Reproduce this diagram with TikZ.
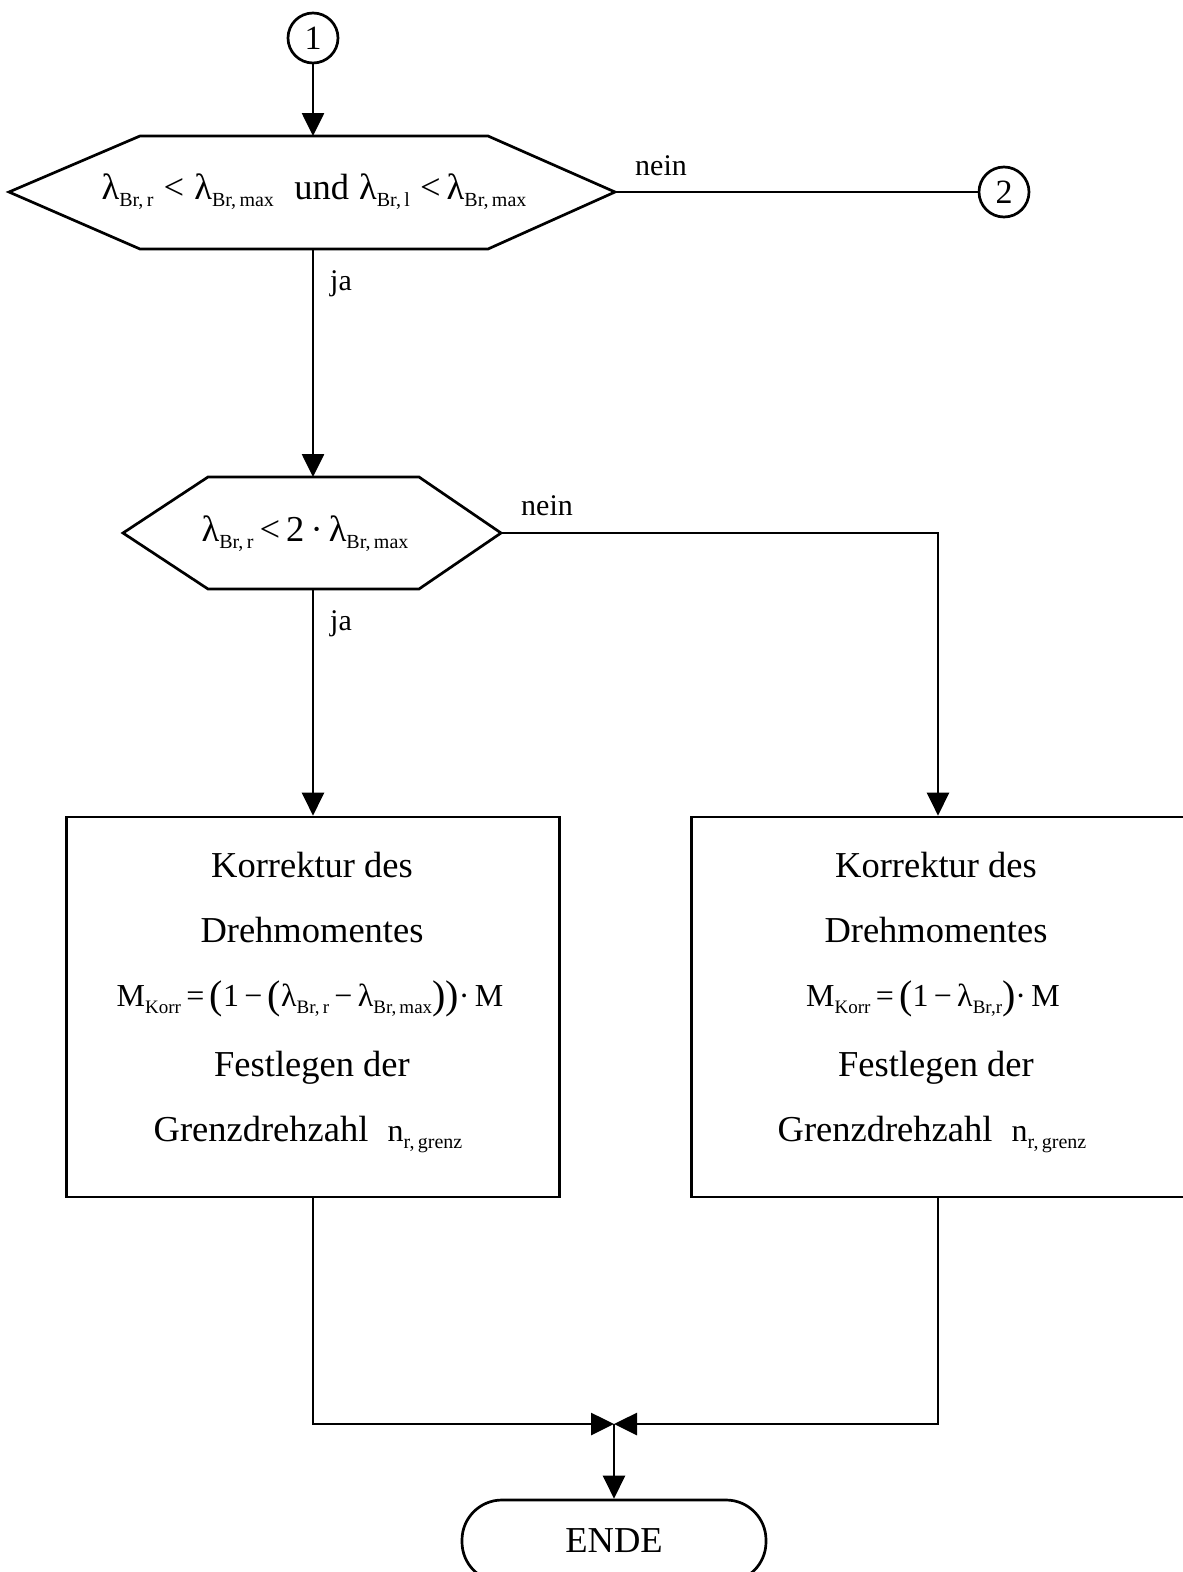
\documentclass[tikz,border=0pt]{standalone}
\usepackage{fontspec}
\setmainfont{Liberation Serif}
\usetikzlibrary{arrows.meta}
\newcommand\sbx[1]{\raisebox{-7pt}{\fontsize{20}{20}\selectfont #1}}
\newcommand\sbf[1]{\raisebox{-7pt}{\fontsize{19}{19}\selectfont #1}}
\newcommand\bpar[1]{\raisebox{-2pt}{\fontsize{40}{40}\selectfont #1}}
\begin{document}
\begin{tikzpicture}[x=1pt,y=-1pt,
 line/.style={line width=2.7pt},
 arr/.style={line, -{Triangle[length=23pt,width=22pt]}},
 conn/.style={draw, line, circle, minimum size=50pt, inner sep=0pt, font=\fontsize{34}{34}\selectfont},
 box/.style={draw, line, minimum width=493pt, minimum height=380pt, inner sep=0pt},
 endbox/.style={draw, line, rounded corners=40pt, minimum width=304pt, minimum height=82pt, inner sep=0pt, font=\fontsize{36.5}{40}\selectfont},
 txt/.style={inner sep=0pt, anchor=base, font=\fontsize{36.5}{40}\selectfont},
 fml/.style={inner sep=0pt, anchor=base, font=\fontsize{32}{36}\selectfont},
 lbl/.style={inner sep=0pt, anchor=base, font=\fontsize{30}{34}\selectfont},
]
\useasboundingbox (0,0) rectangle (1183,1572);

% connector 1
\node[conn] (c1) at (313,38) {1};

% hexagon 1
\draw[line] (9,192) -- (140,136) -- (488,136) -- (615,192) -- (488,249) -- (140,249) -- cycle;
\coordinate (h1t) at (313,136);
\coordinate (h1b) at (313,249);
\coordinate (h1r) at (615,192);
\node[txt] (h1) at (314,199) {λ\sbx{Br,\,r}\;<\;λ\sbx{Br,\,max}\;\;und\;λ\sbx{Br,\,l}\;<\,λ\sbx{Br,\,max}};
\draw[arr] (c1) -- (h1t);

% connector 2
\node[conn] (c2) at (1004,192) {2};
\draw[line] (h1r) -- (c2);
\node[lbl] (n1) at (661,175) {nein};
\node[lbl] (j1) at (341,290) {ja};

% hexagon 2
\draw[line] (123,533) -- (208,477) -- (419,477) -- (501,533) -- (419,589) -- (208,589) -- cycle;
\coordinate (h2t) at (313,477);
\coordinate (h2b) at (313,589);
\coordinate (h2r) at (501,533);
\node[txt] (h2) at (305,541) {λ\sbx{Br,\,r}\,<\,2\,·\,λ\sbx{Br,\,max}};
\draw[arr] (h1b) -- (h2t);
\node[lbl] (n2) at (547,515) {nein};
\node[lbl] (j2) at (341,630) {ja};

% boxes
\node[box] (b1) at (313,1007) {};
\node[box] (b2) at (938,1007) {};
\draw[arr] (h2b) -- (b1.north);
\draw[arr] (h2r) -| (b2.north);

\node[txt] (b1a) at (312,877) {Korrektur des};
\node[txt] (b1b) at (312,942) {Drehmomentes};
\node[fml] (b1c) at (310,1006) {M\sbf{Korr}\,=\,\bpar{(}1\,−\,\bpar{(}λ\sbf{Br,\,r}\,−\,λ\sbf{Br,\,max}\bpar{))}·\,M};
\node[txt] (b1d) at (312,1076) {Festlegen der};
\node[txt] (b1e) at (308,1141) {Grenzdrehzahl\; {\fontsize{32}{32}\selectfont n}\sbx{r,\,grenz}};

\node[txt] (b2a) at (936,877) {Korrektur des};
\node[txt] (b2b) at (936,942) {Drehmomentes};
\node[fml] (b2c) at (933,1006) {M\sbf{Korr}\,=\,\bpar{(}1\,−\,λ\sbf{Br,r}\bpar{)}·\,M};
\node[txt] (b2d) at (936,1076) {Festlegen der};
\node[txt] (b2e) at (932,1141) {Grenzdrehzahl\; {\fontsize{32}{32}\selectfont n}\sbx{r,\,grenz}};

% merge and end
\coordinate (m) at (614,1424);
\draw[arr] (b1.south) |- (m);
\draw[arr] (b2.south) |- (m);
\node[endbox] (e) at (614,1541) {ENDE};
\draw[arr] (m) -- (e.north);
\end{tikzpicture}
\end{document}
